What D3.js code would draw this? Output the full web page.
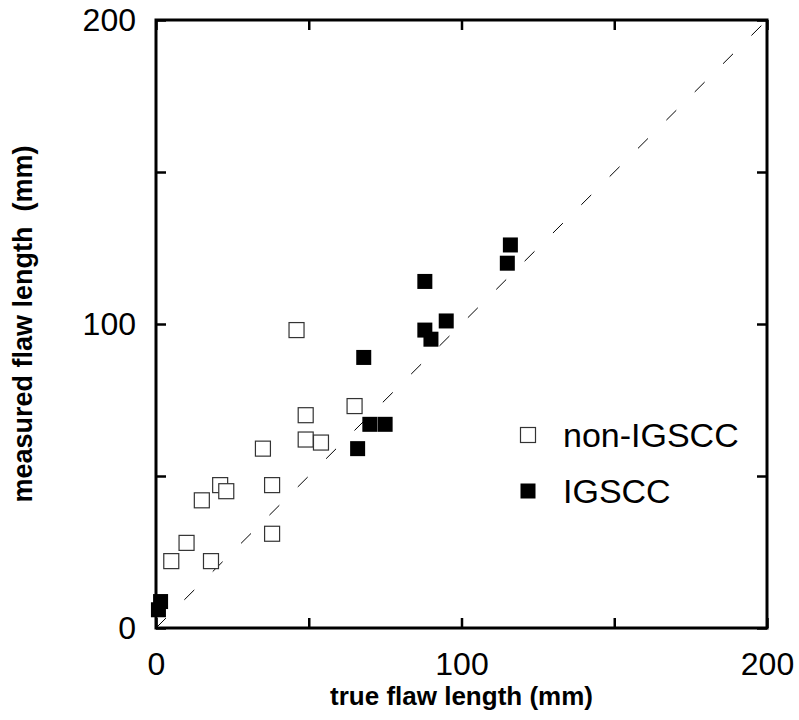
<!DOCTYPE html>
<html>
<head>
<meta charset="utf-8">
<script src="https://cdn.jsdelivr.net/npm/d3@7"></script>
<style>
  body { margin: 0; background: #fff; }
  text { font-family: "Liberation Sans", Arial, Helvetica, sans-serif; }
</style>
</head>
<body>
<div id="chart"></div>
<script>
// data (true length, measured length) in mm
const nonIgscc = [
  [46, 98], [49, 70], [49, 62], [54, 61], [65, 73], [35, 59],
  [21, 47], [23, 45], [15, 42], [38, 47], [38, 31], [10, 28],
  [5, 22], [18, 22]
];
const igscc = [
  [1.5, 8.7], [0.8, 6], [66, 59], [70, 67], [75, 67], [68, 89],
  [88, 98], [90, 95], [95, 101], [88, 114], [115, 120], [116, 126]
];
const tickValues = [0, 50, 100, 150, 200];
const labelledTicks = [0, 100, 200];
const legendItems = [
  { name: "non-IGSCC", filled: false },
  { name: "IGSCC", filled: true }
];

const width = 799, height = 720;
const plotLeft = 156, plotRight = 767, plotTop = 20, plotBottom = 628;
const markerSize = 15;

const svg = d3.select("#chart").append("svg")
  .attr("width", width)
  .attr("height", height);

const x = d3.scaleLinear().domain([0, 200]).range([plotLeft, plotRight]);
const y = d3.scaleLinear().domain([0, 200]).range([plotBottom, plotTop]);

const fmt = d => labelledTicks.includes(d) ? d : "";

// ticks on all four sides, pointing inwards
function styleAxis(g) {
  g.select(".domain").remove();
  g.selectAll(".tick line").attr("stroke", "#000").attr("stroke-width", 2.5);
  g.selectAll(".tick text")
    .attr("fill", "#000")
    .style("font-size", "32px");
}

svg.append("g")
  .attr("transform", `translate(0,${plotBottom})`)
  .call(d3.axisBottom(x).tickValues(tickValues).tickSize(-10).tickPadding(24).tickFormat(fmt))
  .call(styleAxis);

svg.append("g")
  .attr("transform", `translate(0,${plotTop})`)
  .call(d3.axisTop(x).tickValues(tickValues).tickSize(-10).tickFormat(""))
  .call(styleAxis);

svg.append("g")
  .attr("transform", `translate(${plotLeft},0)`)
  .call(d3.axisLeft(y).tickValues(tickValues).tickSize(-10).tickPadding(20).tickFormat(fmt))
  .call(styleAxis);

svg.append("g")
  .attr("transform", `translate(${plotRight},0)`)
  .call(d3.axisRight(y).tickValues(tickValues).tickSize(-10).tickFormat(""))
  .call(styleAxis);

// diagonal y = x
const line = d3.line().x(d => x(d[0])).y(d => y(d[1]));
svg.append("path")
  .attr("d", line([[0, 0], [200, 200]]))
  .attr("fill", "none")
  .attr("stroke", "#000")
  .attr("stroke-width", 1)
  .attr("stroke-dasharray", "14,26");

// points
svg.append("g").selectAll("rect")
  .data(nonIgscc)
  .enter().append("rect")
  .attr("x", d => x(d[0]) - markerSize / 2)
  .attr("y", d => y(d[1]) - markerSize / 2)
  .attr("width", markerSize)
  .attr("height", markerSize)
  .attr("fill", "#fff")
  .attr("stroke", "#333")
  .attr("stroke-width", 1.2);

svg.append("g").selectAll("rect")
  .data(igscc)
  .enter().append("rect")
  .attr("x", d => x(d[0]) - markerSize / 2)
  .attr("y", d => y(d[1]) - markerSize / 2)
  .attr("width", markerSize)
  .attr("height", markerSize)
  .attr("fill", "#000");

// frame
svg.append("rect")
  .attr("x", plotLeft)
  .attr("y", plotTop)
  .attr("width", plotRight - plotLeft)
  .attr("height", plotBottom - plotTop)
  .attr("fill", "none")
  .attr("stroke", "#000")
  .attr("stroke-width", 3);

// legend
const legend = svg.append("g").selectAll("g")
  .data(legendItems)
  .enter().append("g")
  .attr("transform", (d, i) => `translate(528,${435 + i * 56})`);

legend.append("rect")
  .attr("x", -markerSize / 2)
  .attr("y", -markerSize / 2)
  .attr("width", markerSize)
  .attr("height", markerSize)
  .attr("fill", d => d.filled ? "#000" : "#fff")
  .attr("stroke", d => d.filled ? "none" : "#333")
  .attr("stroke-width", 1.2);

legend.append("text")
  .attr("x", 35)
  .attr("y", 12)
  .style("font-size", "34px")
  .text(d => d.name);

// axis titles
svg.append("text")
  .attr("x", (plotLeft + plotRight) / 2)
  .attr("y", 705)
  .attr("text-anchor", "middle")
  .style("font-size", "26px")
  .style("font-weight", "bold")
  .text("true flaw length (mm)");

svg.append("text")
  .attr("transform", `translate(32,${(plotTop + plotBottom) / 2}) rotate(-90)`)
  .attr("text-anchor", "middle")
  .style("font-size", "27px")
  .style("font-weight", "bold")
  .style("white-space", "pre")
  .text("measured flaw length  (mm)");
</script>
</body>
</html>
